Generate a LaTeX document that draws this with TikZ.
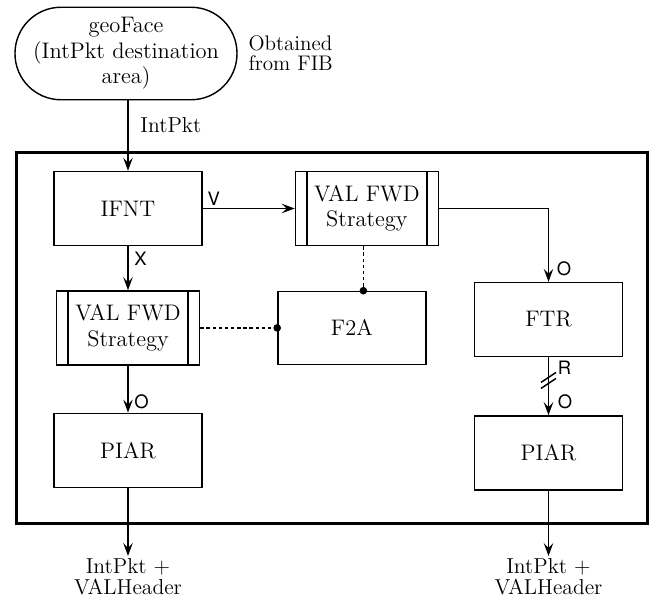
\documentclass[tikz,border=0pt]{standalone}
\usepackage{fontspec}
\setsansfont{TeX Gyre Heros}
\usepackage{tikz}
\usetikzlibrary{arrows.meta, positioning, calc}

\begin{document}
\begin{tikzpicture}[
        font=\fontsize{12.8}{14.5}\selectfont,
        blk/.style={draw, thick, minimum width=2.96cm, minimum height=1.48cm, align=center},
        strat/.style={blk, minimum width=2.86cm, path picture={
            \draw[thick] ([xshift=0.23cm]path picture bounding box.north west) -- ([xshift=0.23cm]path picture bounding box.south west)
                ([xshift=-0.23cm]path picture bounding box.north east) -- ([xshift=-0.23cm]path picture bounding box.south east);}},
        term/.style={draw, thick, rounded corners=0.92cm, minimum width=4.44cm, minimum height=1.85cm, align=center},
        lbl/.style={font=\fontsize{12.3}{12}\selectfont, align=center, inner sep=1pt},
        note/.style={font=\fontsize{12}{11.5}\selectfont, align=left, inner sep=0pt},
        tag/.style={font=\fontsize{10.5}{12}\sffamily, inner sep=0pt},
        arr/.style={thick, -{Stealth[length=2.6mm, width=1.9mm, inset=1mm]}},
        link/.style={thick, dash pattern=on 2pt off 1.5pt, -{Circle[length=1.5mm]}, shorten >=-0.75mm},
        frame/.style={draw, line width=1.6pt},
    ]
        \useasboundingbox (0,0) rectangle (13.1,-11.98);

        % --- Source of the interest packet ---
        \node[term] (geo) at (2.52,-1.07) {geoFace\\(IntPkt destination\\area)};
        \node[note, right=0.21cm of geo.east, anchor=west] (fib) {Obtained\\from FIB};

        % --- Forwarder blocks ---
        \node[blk] (ifnt) at (2.56,-4.17) {IFNT};
        \node[strat, right=1.84cm of ifnt] (valA) {VAL FWD\\Strategy};
        \node[strat, below=0.88cm of ifnt] (valB) {VAL FWD\\Strategy};
        \node[blk, right=1.54cm of valB, minimum height=1.46cm] (f2a) {F2A};
        \node[blk] (ftr) at (10.97,-6.39) {FTR};
        \node[blk, below=0.94cm of valB] (piarL) {PIAR};
        \node[blk, below=1.16cm of ftr] (piarR) {PIAR};

        % --- Outgoing packets ---
        \node[lbl, below=1.36cm of piarL] (outL) {IntPkt +\\VALHeader};
        \node[lbl] (outR) at (piarR |- outL) {IntPkt +\\VALHeader};

        % --- Enclosing box ---
        \draw[frame] (0.33,-3.05) rectangle (12.95,-10.47);

        % --- Packet flow ---
        \draw[arr] (geo.south -| ifnt.north) -- node[lbl, pos=0.35, right=0.2cm] {IntPkt} (ifnt.north);
        \draw[arr] (ifnt.east) -- (ifnt.east -| valA.west);
        \draw[arr] (ifnt) -- (valB);
        \draw[arr] (valA.east) -| (ftr.north);
        \draw[arr] (valB) -- (piarL);
        \draw[arr] (ftr) -- coordinate[pos=0.4] (brk) (piarR);
        \draw[arr] (piarL) -- (outL);
        \draw[arr] (piarR) -- (outR);

        % --- Break mark on FTR -> PIAR ---
        \draw[thick] ($(brk)+(-0.15,-0.16)$) -- ($(brk)+(0.15,0.04)$);
        \draw[thick] ($(brk)+(-0.15,-0.04)$) -- ($(brk)+(0.15,0.16)$);

        % --- Links to F2A ---
        \draw[link] ([xshift=-2pt]valA.south) -- ([xshift=-2pt]valA.south |- f2a.north);
        \draw[link] (valB.east) -- (valB.east -| f2a.west);

        % --- Branch tags ---
        \node[tag, above right=0.06cm and 0.09cm of ifnt.east] {V};
        \node[tag, below right=0.1cm and 0.12cm of ifnt.south] {X};
        \node[tag, above right=0.12cm and 0.16cm of ftr.north] {O};
        \node[tag, below right=0.06cm and 0.18cm of ftr.south] {R};
        \node[tag, above right=0.12cm and 0.18cm of piarR.north] {O};
        \node[tag, above right=0.06cm and 0.12cm of piarL.north] {O};
    \end{tikzpicture}
\end{document}
